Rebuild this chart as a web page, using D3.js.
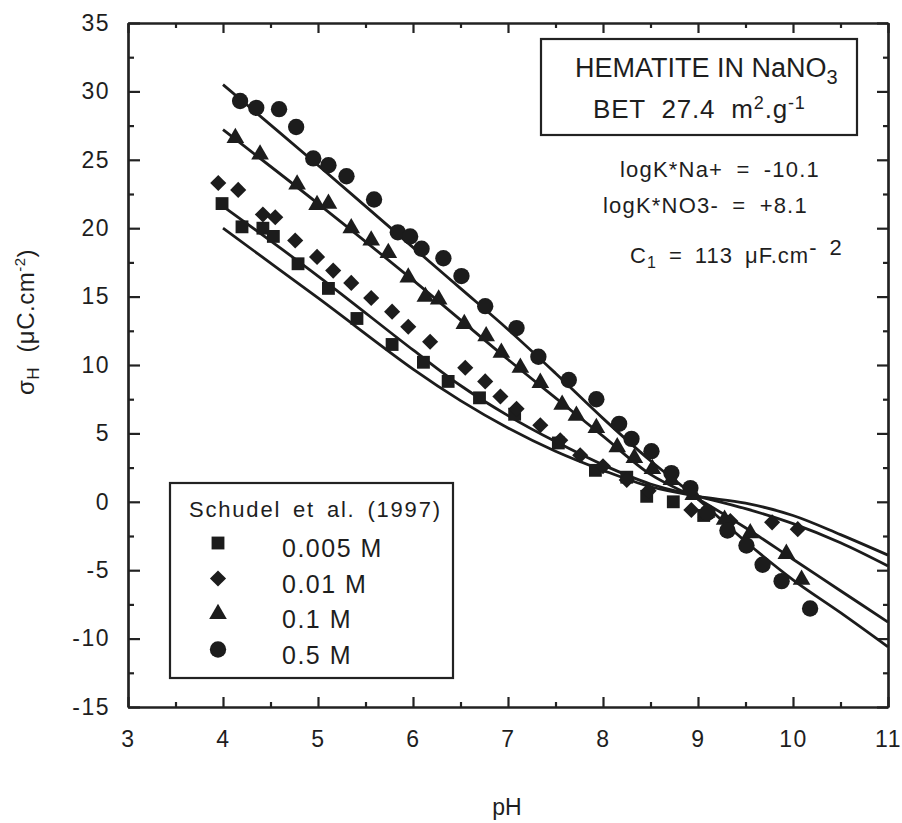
<!DOCTYPE html>
<html>
<head>
<meta charset="utf-8">
<script src="https://cdn.jsdelivr.net/npm/d3@7"></script>
<style>
body { margin: 0; background: #fff; }
svg text { font-family: "Liberation Sans", Arial, Helvetica, sans-serif; fill: #1e1e1e; }
.axis path, .axis line { stroke: #222; stroke-width: 2.2; }
</style>
</head>
<body>
<div id="vis-svg"></div>
<script>
var w = 902;
var h = 823;

// axis ticks
var xTicks = [3, 4, 5, 6, 7, 8, 9, 10, 11];
var yTicks = [-15, -10, -5, 0, 5, 10, 15, 20, 25, 30, 35];

// legend / series
var seriesNames = ["0.005 M", "0.01 M", "0.1 M", "0.5 M"];
var seriesSymbols = ["square", "diamond", "triangle", "circle"];

// measured points [pH, sigmaH]  (Schudel et al. 1997)
var pts005 = [[3.99,21.8],[4.20,20.1],[4.42,20.0],[4.53,19.4],[4.79,17.4],[5.11,15.6],[5.41,13.4],
  [5.78,11.5],[6.11,10.2],[6.37,8.8],[6.70,7.6],[7.07,6.4],[7.53,4.3],[7.92,2.3],[8.25,1.8],
  [8.46,0.4],[8.74,0.0],[9.06,-1.0]];
var pts01 = [[3.95,23.3],[4.16,22.8],[4.42,21.0],[4.55,20.8],[4.76,19.1],[4.99,17.9],[5.16,16.9],
  [5.35,16.0],[5.56,14.9],[5.78,13.9],[5.95,12.8],[6.18,11.7],[6.55,9.8],[6.76,8.8],[6.92,7.7],
  [7.09,6.8],[7.34,5.6],[7.55,4.5],[7.76,3.4],[8.0,2.6],[8.25,1.6],[8.48,0.8],[8.93,-0.6],
  [9.34,-1.4],[9.78,-1.5],[10.05,-2.0]];
var pts1 = [[4.13,26.6],[4.39,25.4],[4.78,23.2],[4.99,21.7],[5.11,21.8],[5.35,20.0],[5.56,19.1],
  [5.74,18.2],[5.95,16.4],[6.13,15.0],[6.27,14.8],[6.54,13.0],[6.77,12.1],[6.93,10.9],[7.13,9.8],
  [7.34,8.7],[7.57,7.1],[7.72,6.3],[7.93,5.4],[8.15,4.0],[8.33,3.2],[8.52,2.4],[8.72,1.6],
  [8.95,0.5],[9.09,-0.8],[9.28,-1.3],[9.55,-2.3],[9.93,-3.8],[10.09,-5.7]];
var pts5 = [[4.18,29.3],[4.35,28.8],[4.59,28.7],[4.77,27.4],[4.95,25.1],[5.11,24.6],[5.30,23.8],
  [5.59,22.1],[5.84,19.7],[5.97,19.4],[6.09,18.5],[6.32,17.8],[6.51,16.5],[6.76,14.3],[7.09,12.7],
  [7.32,10.6],[7.64,8.9],[7.93,7.5],[8.17,5.7],[8.30,4.6],[8.51,3.7],[8.72,2.1],[8.92,1.0],
  [9.10,-0.8],[9.31,-2.1],[9.51,-3.2],[9.68,-4.6],[9.88,-5.8],[10.18,-7.8]];

// model curves, on a common pH grid
var fitPH  = [4, 5, 6, 6.5, 7, 7.5, 8, 8.5, 9, 9.5, 10, 10.5, 11];
var fit005 = [20.0, 14.9, 9.7, 7.4, 5.4, 3.7, 2.3, 1.1, 0.4, -0.1, -1.0, -2.4, -3.9];
var fit01  = [21.6, 16.5, 11.1, 8.5, 6.3, 4.4, 2.7, 1.3, 0.4, -0.5, -1.6, -3.0, -4.7];
var fit1   = [27.2, 21.8, 16.2, 13.3, 10.4, 7.6, 4.8, 2.0, 0.2, -1.9, -4.2, -6.5, -8.8];
var fit5   = [30.5, 24.6, 18.6, 15.6, 12.6, 9.4, 6.1, 3.0, 0.2, -2.9, -5.7, -8.1, -10.6];

var allPts = [pts005, pts01, pts1, pts5];
var allFits = [fit005, fit01, fit1, fit5];

var canvas = d3.select("#vis-svg").append("svg")
    .attr("width", w)
    .attr("height", h);

var x = d3.scaleLinear().domain([3, 11]).range([128, 888]);
var y = d3.scaleLinear().domain([-15, 35]).range([707, 23]);

var minorX = d3.range(3.5, 11, 1);
var minorY = d3.range(-12.5, 35, 5);

function plain(d) { return String(d); }   // keep ascii hyphen for negatives

// left axis
canvas.append("g").attr("class", "axis").attr("transform", "translate(128,0)")
    .call(d3.axisLeft(y).tickValues(yTicks).tickSize(-12).tickSizeOuter(0).tickPadding(18).tickFormat(plain))
    .call(g => g.selectAll("text").style("font-size", "23px").style("letter-spacing", "1.5px"));
canvas.append("g").attr("class", "axis").attr("transform", "translate(128,0)")
    .call(d3.axisLeft(y).tickValues(minorY).tickSize(-6).tickSizeOuter(0).tickFormat(""));

// right axis
canvas.append("g").attr("class", "axis").attr("transform", "translate(888,0)")
    .call(d3.axisRight(y).tickValues(yTicks).tickSize(-11).tickSizeOuter(0).tickFormat(""));
canvas.append("g").attr("class", "axis").attr("transform", "translate(888,0)")
    .call(d3.axisRight(y).tickValues(minorY).tickSize(-5).tickSizeOuter(0).tickFormat(""));

// bottom axis
canvas.append("g").attr("class", "axis").attr("transform", "translate(0,707)")
    .call(d3.axisBottom(x).tickValues(xTicks).tickSize(-10).tickSizeOuter(0).tickPadding(24).tickFormat(plain))
    .call(g => g.selectAll("text").style("font-size", "23px").style("letter-spacing", "1.5px"));
canvas.append("g").attr("class", "axis").attr("transform", "translate(0,707)")
    .call(d3.axisBottom(x).tickValues(minorX).tickSize(-5).tickSizeOuter(0).tickFormat(""));

// top axis
canvas.append("g").attr("class", "axis").attr("transform", "translate(0,23)")
    .call(d3.axisTop(x).tickValues(xTicks).tickSize(-10).tickSizeOuter(0).tickFormat(""));
canvas.append("g").attr("class", "axis").attr("transform", "translate(0,23)")
    .call(d3.axisTop(x).tickValues(minorX).tickSize(-5).tickSizeOuter(0).tickFormat(""));

// model lines
var line = d3.line()
    .x((d, i) => x(fitPH[i]))
    .y(d => y(d))
    .curve(d3.curveCatmullRom.alpha(0.5));

canvas.selectAll(".fit")
    .data(allFits)
    .enter()
    .append("path")
    .attr("class", "fit")
    .attr("d", line)
    .attr("fill", "none")
    .attr("stroke", "#1c1c1c")
    .attr("stroke-width", 2.8);

// markers
function symbolPath(kind) {
    if (kind == "circle") return d3.symbol().type(d3.symbolCircle).size(210)();
    if (kind == "triangle") return d3.symbol().type(d3.symbolTriangle).size(135)();
    if (kind == "diamond") return d3.symbol().type(d3.symbolSquare).size(130)();
    return d3.symbol().type(d3.symbolSquare).size(165)();
}

allPts.forEach(function(pts, s) {
    canvas.append("g").selectAll("path")
        .data(pts)
        .enter()
        .append("path")
        .attr("d", symbolPath(seriesSymbols[s]))
        .attr("transform", d => "translate(" + x(d[0]) + "," + y(d[1]) + ")" +
            (seriesSymbols[s] == "diamond" ? " rotate(45)" : ""))
        .attr("fill", "#1c1c1c");
});

// legend
var legend = canvas.append("g");
legend.append("rect")
    .attr("x", 170).attr("y", 483).attr("width", 283).attr("height", 195)
    .attr("fill", "#fff").attr("stroke", "#222").attr("stroke-width", 2.2);
legend.append("text")
    .attr("x", 189).attr("y", 517)
    .style("font-size", "22px").style("letter-spacing", "1.8px").style("word-spacing", "4px")
    .text("Schudel et al. (1997)");
seriesNames.forEach(function(name, i) {
    var cy = 543 + i * 35.5;
    legend.append("path")
        .attr("d", symbolPath(seriesSymbols[i]))
        .attr("transform", "translate(218," + cy + ")" + (seriesSymbols[i] == "diamond" ? " rotate(45)" : ""))
        .attr("fill", "#1c1c1c");
    legend.append("text")
        .attr("x", 282).attr("y", cy + 14)
        .style("font-size", "25px").style("letter-spacing", "1.5px")
        .text(name);
});

// top-right info box
canvas.append("rect")
    .attr("x", 541).attr("y", 39).attr("width", 316).attr("height", 96)
    .attr("fill", "#fff").attr("stroke", "#222").attr("stroke-width", 2.2);
var t1 = canvas.append("text").attr("x", 575).attr("y", 77).style("font-size", "27px");
t1.append("tspan").text("HEMATITE IN NaNO");
t1.append("tspan").attr("dy", 7).style("font-size", "20px").text("3");
var t2 = canvas.append("text").attr("x", 593).attr("y", 118)
    .style("font-size", "26px").style("letter-spacing", "0.8px").style("word-spacing", "8px");
t2.append("tspan").text("BET 27.4 m");
t2.append("tspan").attr("dy", -9).style("font-size", "18px").text("2");
t2.append("tspan").attr("dy", 9).text(".g");
t2.append("tspan").attr("dy", -9).style("font-size", "18px").text("-1");

canvas.append("text").attr("x", 620).attr("y", 177)
    .style("font-size", "22px").style("letter-spacing", "1.2px").style("word-spacing", "6px")
    .text("logK*Na+ = -10.1");
canvas.append("text").attr("x", 603).attr("y", 213)
    .style("font-size", "22px").style("letter-spacing", "1.2px").style("word-spacing", "6px")
    .text("logK*NO3- = +8.1");
var t3 = canvas.append("text").attr("x", 630).attr("y", 263)
    .style("font-size", "22px").style("letter-spacing", "1px").style("word-spacing", "5px");
t3.append("tspan").text("C");
t3.append("tspan").attr("dy", 5).style("font-size", "16px").text("1");
t3.append("tspan").attr("dy", -5).text(" = 113 \u03bcF.cm");
t3.append("tspan").attr("dy", -8).text("- 2");

// axis titles
canvas.append("text")
    .attr("x", 507).attr("y", 815)
    .attr("text-anchor", "middle")
    .style("font-size", "23px")
    .text("pH");

var yl = canvas.append("text")
    .attr("transform", "translate(34,322) rotate(-90)")
    .attr("text-anchor", "middle")
    .style("font-size", "24px").style("letter-spacing", "0.5px");
yl.append("tspan").text("\u03c3");
yl.append("tspan").attr("dy", 5).style("font-size", "17px").text("H");
yl.append("tspan").attr("dy", -5).text("\u00a0\u00a0(\u03bcC.cm");
yl.append("tspan").attr("dy", -9).style("font-size", "15px").text("-2");
yl.append("tspan").attr("dy", 9).text(")");
</script>
</body>
</html>
